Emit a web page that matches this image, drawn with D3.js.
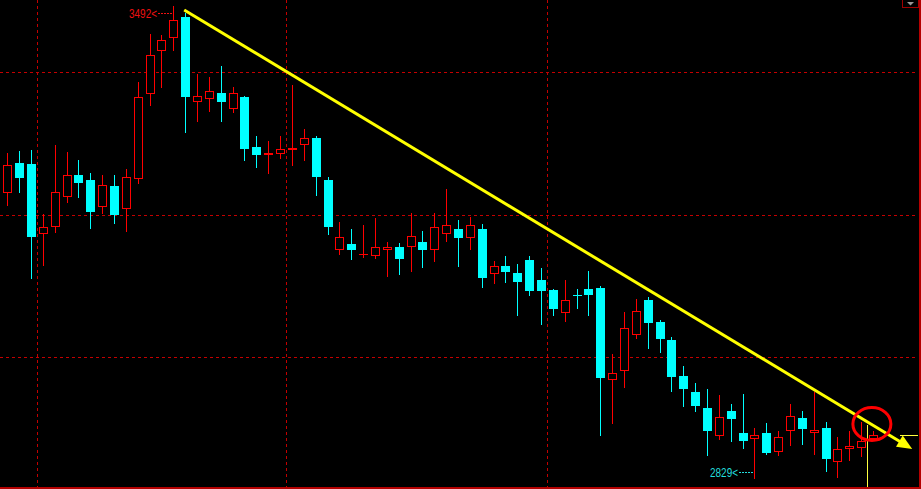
<!DOCTYPE html>
<html>
<head>
<meta charset="utf-8">
<script src="https://cdn.jsdelivr.net/npm/d3@7"></script>
<style>
  html, body { margin: 0; padding: 0; background: #000; overflow: hidden; }
  svg { display: block; }
</style>
</head>
<body>
<svg id="chart" width="921" height="489"></svg>
<script>
// ---- data ----
const days = d3.range(1, 75).map(String);
const opens  = [3230,3272,3271,3173,3182,3225,3255,3248,3211,3240,3208,3250,3369,3430,3448,3477,3358,3362,3371,3348,
                3365,3295,3284,3285,3291,3298,3307,3248,3150,3159,3144,3142,3150,3154,3154,3161,3150,3173,3180,3167,
                3180,3117,3128,3118,3136,3108,3094,3062,3087,3095,3097,2968,2980,3031,3080,3049,3024,2973,2951,2928,
                2889,2924,2893,2885,2893,2867,2896,2914,2893,2900,2853,2871,2872,2885];
const highs  = [3286,3289,3290,3201,3297,3288,3277,3258,3255,3255,3264,3386,3453,3452,3492,3483,3397,3393,3408,3379,
                3366,3310,3303,3310,3382,3320,3310,3253,3190,3180,3185,3195,3161,3160,3202,3177,3202,3236,3192,3197,
                3187,3135,3142,3131,3142,3125,3095,3108,3095,3121,3100,3004,3063,3081,3084,3052,3028,2987,2964,2955,
                2947,2934,2948,2900,2907,2896,2934,2924,2951,2909,2888,2896,2909,2896];
const lows   = [3212,3230,3110,3128,3174,3216,3223,3180,3201,3187,3175,3243,3352,3378,3430,3314,3330,3344,3330,3343,
                3275,3265,3257,3278,3268,3275,3226,3171,3143,3136,3139,3137,3112,3115,3119,3125,3133,3161,3126,3150,
                3097,3103,3104,3058,3086,3045,3058,3049,3067,3058,2889,2906,2957,3025,3011,3006,2951,2930,2923,2861,
                2884,2881,2871,2829,2863,2861,2875,2877,2863,2839,2830,2854,2860,2884];
const closes = [3270,3251,3168,3182,3232,3255,3244,3204,3241,3199,3253,3365,3424,3445,3473,3365,3366,3373,3358,3371,
                3292,3284,3286,3292,3293,3307,3253,3183,3168,3150,3145,3154,3154,3138,3170,3150,3182,3185,3167,3185,
                3111,3128,3119,3105,3093,3093,3067,3080,3086,3087,2970,2978,3041,3065,3048,3025,2972,2955,2931,2896,
                2916,2913,2882,2891,2865,2888,2917,2899,2898,2857,2871,2875,2882,2891];
const gridPrices = [3400, 3200, 3000];
const gridAfterIdx = [2, 23, 45];          // vertical dividers sit after these candles
const trendFrom = { i: 15, p: 3487 };      // yellow trend line (candle index, price)
const trendTo   = { i: 76.3, p: 2871 };
const circleAt  = { i: 72.9, p: 2906 };
const cursorIdx = 72.5;

const candles = days.map((d, i) => ({ d, i, o: opens[i], h: highs[i], l: lows[i], c: closes[i] }));

// ---- scales ----
const svg = d3.select("#chart");
const W = 921, H = 489;
const x = d3.scaleBand().domain(days).range([1.37, 879]).paddingInner(0.24).paddingOuter(0.12);
const step = x.step();
const xc = i => x(days[0]) + x.bandwidth() / 2 + i * step;
const y = d3.scaleLinear().domain([3000, 3400]).range([357, 72]);

const RED = "#ff0000", CYAN = "#00ffff", GRID = "#c40000", YEL = "#ffff00";

svg.append("rect").attr("width", W).attr("height", H).attr("fill", "#000");

// ---- grid ----
const g = svg.append("g").attr("shape-rendering", "crispEdges");
g.selectAll("line.h").data(gridPrices).join("line")
  .attr("x1", 0).attr("x2", 918)
  .attr("y1", d => Math.round(y(d)) + 0.5).attr("y2", d => Math.round(y(d)) + 0.5)
  .attr("stroke", GRID).attr("stroke-dasharray", "3,3");
g.selectAll("line.v").data(gridAfterIdx).join("line")
  .attr("x1", d => Math.round(xc(d + 0.5)) + 0.5).attr("x2", d => Math.round(xc(d + 0.5)) + 0.5)
  .attr("y1", 0).attr("y2", 487)
  .attr("stroke", GRID).attr("stroke-dasharray", "3,3");

// borders
g.append("line").attr("x1", 0).attr("x2", 921).attr("y1", 487.5).attr("y2", 487.5)
  .attr("stroke", "#b40000").attr("stroke-width", 2);
g.append("line").attr("x1", 920).attr("x2", 920).attr("y1", 0).attr("y2", 489)
  .attr("stroke", "#b40000").attr("stroke-width", 2);
g.append("rect").attr("x", 902.5).attr("y", -1).attr("width", 16).attr("height", 8)
  .attr("fill", "#000").attr("stroke", "#a00000");
svg.append("path").attr("d", "M907,2 L914,2 L910.5,5.5 Z").attr("fill", "#999");

// ---- candles ----
const cg = svg.append("g").attr("shape-rendering", "crispEdges");
candles.forEach(k => {
  const cx = Math.round(xc(k.i));
  const up = k.c >= k.o;
  const yT = Math.round(y(Math.max(k.o, k.c)));
  const yB = Math.round(y(Math.min(k.o, k.c)));
  const yH = Math.round(y(k.h)), yL = Math.round(y(k.l));
  const col = up ? RED : CYAN;
  if (up) {
    cg.append("line").attr("x1", cx + 0.5).attr("x2", cx + 0.5).attr("y1", yH).attr("y2", yT).attr("stroke", col);
    cg.append("line").attr("x1", cx + 0.5).attr("x2", cx + 0.5).attr("y1", yB).attr("y2", yL).attr("stroke", col);
    cg.append("rect").attr("x", cx - 3.5).attr("y", yT + 0.5).attr("width", 8)
      .attr("height", Math.max(yB - yT - 1, 0.01)).attr("fill", "#000").attr("stroke", col);
  } else {
    cg.append("line").attr("x1", cx + 0.5).attr("x2", cx + 0.5).attr("y1", yH).attr("y2", yL).attr("stroke", col);
    cg.append("rect").attr("x", cx - 4).attr("y", yT).attr("width", 9)
      .attr("height", Math.max(yB - yT, 1)).attr("fill", col);
  }
});

// ---- extreme labels ----
const hiK = candles[d3.maxIndex(candles, d => d.h)];
const loK = candles[d3.minIndex(candles, d => d.l)];
function extremeLabel(k, val, color, dy) {
  const cx = Math.round(xc(k.i));
  const ly = Math.round(y(val)) + dy;
  svg.append("text").attr("x", cx - 16).attr("y", ly + 4.5)
    .attr("text-anchor", "end").attr("fill", color)
    .attr("font-family", "Liberation Sans, Arial, sans-serif").attr("font-size", 12)
    .attr("textLength", 28).attr("lengthAdjust", "spacingAndGlyphs")
    .text(val + "<");
  svg.append("line").attr("x1", cx - 15).attr("x2", cx).attr("y1", ly + 0.5).attr("y2", ly + 0.5)
    .attr("stroke", color).attr("stroke-dasharray", "2,1").attr("shape-rendering", "crispEdges");
}
extremeLabel(hiK, hiK.h, "#ee1111", 7);
extremeLabel(loK, loK.l, "#22dddd", -7);

// ---- annotations ----
// cursor line and last price marker
const lastClose = closes[closes.length - 1];
svg.append("line").attr("x1", Math.round(xc(cursorIdx)) + 0.5).attr("x2", Math.round(xc(cursorIdx)) + 0.5)
  .attr("y1", 425).attr("y2", 487).attr("stroke", "#ffff40").attr("shape-rendering", "crispEdges");
svg.append("line").attr("x1", 900).attr("x2", 918)
  .attr("y1", Math.round(y(lastClose)) + 0.5).attr("y2", Math.round(y(lastClose)) + 0.5)
  .attr("stroke", "#ffff40").attr("shape-rendering", "crispEdges");

// trend line with arrow
const x0 = xc(trendFrom.i) - 1, y0 = y(trendFrom.p);
const x1 = xc(trendTo.i), y1 = y(trendTo.p);
const len = Math.hypot(x1 - x0, y1 - y0);
const ux = (x1 - x0) / len, uy = (y1 - y0) / len;
const nx = -uy, ny = ux;
const aL = 15, aW = 6.5;
const bx = x1 - aL * ux, by = y1 - aL * uy;
svg.append("line").attr("x1", x0).attr("y1", y0).attr("x2", bx + ux * 2).attr("y2", by + uy * 2)
  .attr("stroke", YEL).attr("stroke-width", 3);
svg.append("path")
  .attr("d", `M${x1},${y1} L${bx + aW * nx},${by + aW * ny} L${bx - aW * nx},${by - aW * ny} Z`)
  .attr("fill", YEL);

// red circle
svg.append("ellipse").attr("cx", xc(circleAt.i)).attr("cy", y(circleAt.p))
  .attr("rx", 19).attr("ry", 16.5).attr("fill", "none").attr("stroke", "#ff0000").attr("stroke-width", 3);
</script>
</body>
</html>
